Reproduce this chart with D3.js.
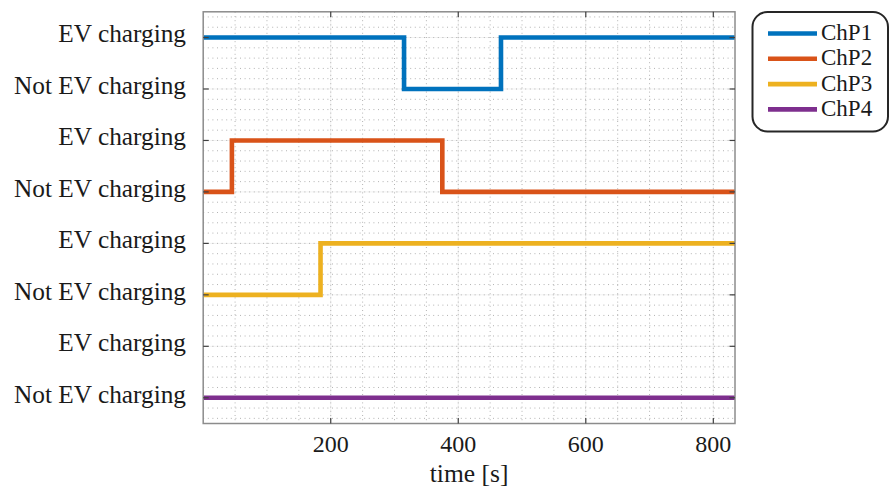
<!DOCTYPE html>
<html>
<head>
<meta charset="utf-8">
<script src="https://cdn.jsdelivr.net/npm/d3@7"></script>
<style>
  body { margin: 0; background: #fff; }
  svg text { font-family: "Liberation Serif", "Times New Roman", serif; fill: #1a1a1a; }
</style>
</head>
<body>
<svg id="chart" width="889" height="490"></svg>
<script>
// Series names and colours (MATLAB defaults)
var seriesNames = ["ChP1", "ChP2", "ChP3", "ChP4"];
var seriesColors = ["#0072BD", "#D95319", "#EDB120", "#7E2F8E"];

// Each charging point: switching times [s] and state after each time (1 = charging)
var chp1Times = [0, 315, 467, 834];
var chp1States = [1, 0, 1, 1];
var chp2Times = [0, 45, 375, 834];
var chp2States = [0, 1, 0, 0];
var chp3Times = [0, 184, 834];
var chp3States = [0, 1, 1];
var chp4Times = [0, 834];
var chp4States = [0, 0];

// Base level of each series on the y axis (Not EV charging level)
var seriesBase = [6, 4, 2, 0];

var yTickValues = [0, 1, 2, 3, 4, 5, 6, 7];
var yTickLabels = ["Not EV charging", "EV charging", "Not EV charging", "EV charging",
                   "Not EV charging", "EV charging", "Not EV charging", "EV charging"];
var xTickValues = [200, 400, 600, 800];
var xMax = 834;

var allTimes = [chp1Times, chp2Times, chp3Times, chp4Times];
var allStates = [chp1States, chp2States, chp3States, chp4States];

var margin = {left: 203.2, right: 735, top: 11.8, bottom: 423.5};

var svg = d3.select("#chart");

var x = d3.scaleLinear().domain([0, xMax]).range([margin.left, margin.right]);
var y = d3.scaleLinear().domain([-0.5, 7.5]).range([margin.bottom, margin.top]);

svg.append("defs").append("clipPath").attr("id", "plot-clip")
  .append("rect")
    .attr("x", margin.left).attr("y", margin.top)
    .attr("width", margin.right - margin.left)
    .attr("height", margin.bottom - margin.top);

// Grid: faint major lines, dotted minor lines
var minorX = d3.range(50, xMax, 50);
var minorY = d3.range(-0.4, 7.45, 0.2);
var grid = svg.append("g").attr("class", "grid");

grid.selectAll(".gx-major").data(xTickValues).enter().append("line")
  .attr("x1", function(d) { return x(d); }).attr("x2", function(d) { return x(d); })
  .attr("y1", margin.top).attr("y2", margin.bottom)
  .attr("stroke", "#f2f2f2").attr("stroke-width", 1);

grid.selectAll(".gy-major").data(yTickValues).enter().append("line")
  .attr("y1", function(d) { return y(d); }).attr("y2", function(d) { return y(d); })
  .attr("x1", margin.left).attr("x2", margin.right)
  .attr("stroke", "#f2f2f2").attr("stroke-width", 1);

grid.selectAll(".gx").data(minorX).enter().append("line")
  .attr("x1", function(d) { return x(d); }).attr("x2", function(d) { return x(d); })
  .attr("y1", margin.top).attr("y2", margin.bottom)
  .attr("stroke", "#b3b3b3").attr("stroke-width", 1)
  .attr("stroke-dasharray", "1,3.2");

grid.selectAll(".gy").data(minorY).enter().append("line")
  .attr("y1", function(d) { return y(d); }).attr("y2", function(d) { return y(d); })
  .attr("x1", margin.left).attr("x2", margin.right)
  .attr("stroke", "#b3b3b3").attr("stroke-width", 1)
  .attr("stroke-dasharray", "1,3.6");

// Step lines
var lineGen = d3.line()
  .x(function(d) { return x(d.t); })
  .y(function(d) { return y(d.v); })
  .curve(d3.curveStepAfter);

var plot = svg.append("g").attr("clip-path", "url(#plot-clip)");
seriesNames.forEach(function(name, i) {
  var pts = allTimes[i].map(function(t, j) {
    return {t: t, v: seriesBase[i] + allStates[i][j]};
  });
  plot.append("path")
    .datum(pts)
    .attr("d", lineGen)
    .attr("fill", "none")
    .attr("stroke", seriesColors[i])
    .attr("stroke-width", 4.6)
    .attr("stroke-linejoin", "miter")
    .attr("stroke-linecap", "square");
});

// Box
svg.append("rect")
  .attr("x", margin.left).attr("y", margin.top)
  .attr("width", margin.right - margin.left)
  .attr("height", margin.bottom - margin.top)
  .attr("fill", "none").attr("stroke", "#8c8c8c").attr("stroke-width", 1.5);

// Ticks (inside, on all four sides)
var tickLen = 5.5;
var ticks = svg.append("g").attr("stroke", "#404040").attr("stroke-width", 1.2);
xTickValues.forEach(function(d) {
  ticks.append("line").attr("x1", x(d)).attr("x2", x(d))
    .attr("y1", margin.bottom).attr("y2", margin.bottom - tickLen);
  ticks.append("line").attr("x1", x(d)).attr("x2", x(d))
    .attr("y1", margin.top).attr("y2", margin.top + tickLen);
});
yTickValues.forEach(function(d) {
  ticks.append("line").attr("y1", y(d)).attr("y2", y(d))
    .attr("x1", margin.left).attr("x2", margin.left + tickLen);
  ticks.append("line").attr("y1", y(d)).attr("y2", y(d))
    .attr("x1", margin.right).attr("x2", margin.right - tickLen);
});

// Tick labels
svg.append("g").selectAll("text").data(xTickValues).enter().append("text")
  .attr("x", function(d) { return x(d); })
  .attr("y", 452)
  .attr("text-anchor", "middle")
  .attr("font-size", 24)
  .text(function(d) { return d; });

svg.append("g").selectAll("text").data(yTickValues).enter().append("text")
  .attr("x", 186)
  .attr("y", function(d) { return y(d) + 4.8; })
  .attr("text-anchor", "end")
  .attr("font-size", 25.3)
  .text(function(d, i) { return yTickLabels[i]; });

// Axis label
svg.append("text")
  .attr("x", (margin.left + margin.right) / 2)
  .attr("y", 482)
  .attr("text-anchor", "middle")
  .attr("font-size", 25.5)
  .text("time [s]");

// Legend
var legend = svg.append("g");
legend.append("rect")
  .attr("x", 752.5).attr("y", 12).attr("width", 135.5).attr("height", 119.5)
  .attr("rx", 15).attr("ry", 15)
  .attr("fill", "#fff").attr("stroke", "#262626").attr("stroke-width", 2);

seriesNames.forEach(function(name, i) {
  var ly = 33.5 + i * 25.3;
  legend.append("line")
    .attr("x1", 768).attr("x2", 817)
    .attr("y1", ly).attr("y2", ly)
    .attr("stroke", seriesColors[i]).attr("stroke-width", 4.6);
  legend.append("text")
    .attr("x", 821).attr("y", ly + 6.4)
    .attr("font-size", 23)
    .text(name);
});
</script>
</body>
</html>
